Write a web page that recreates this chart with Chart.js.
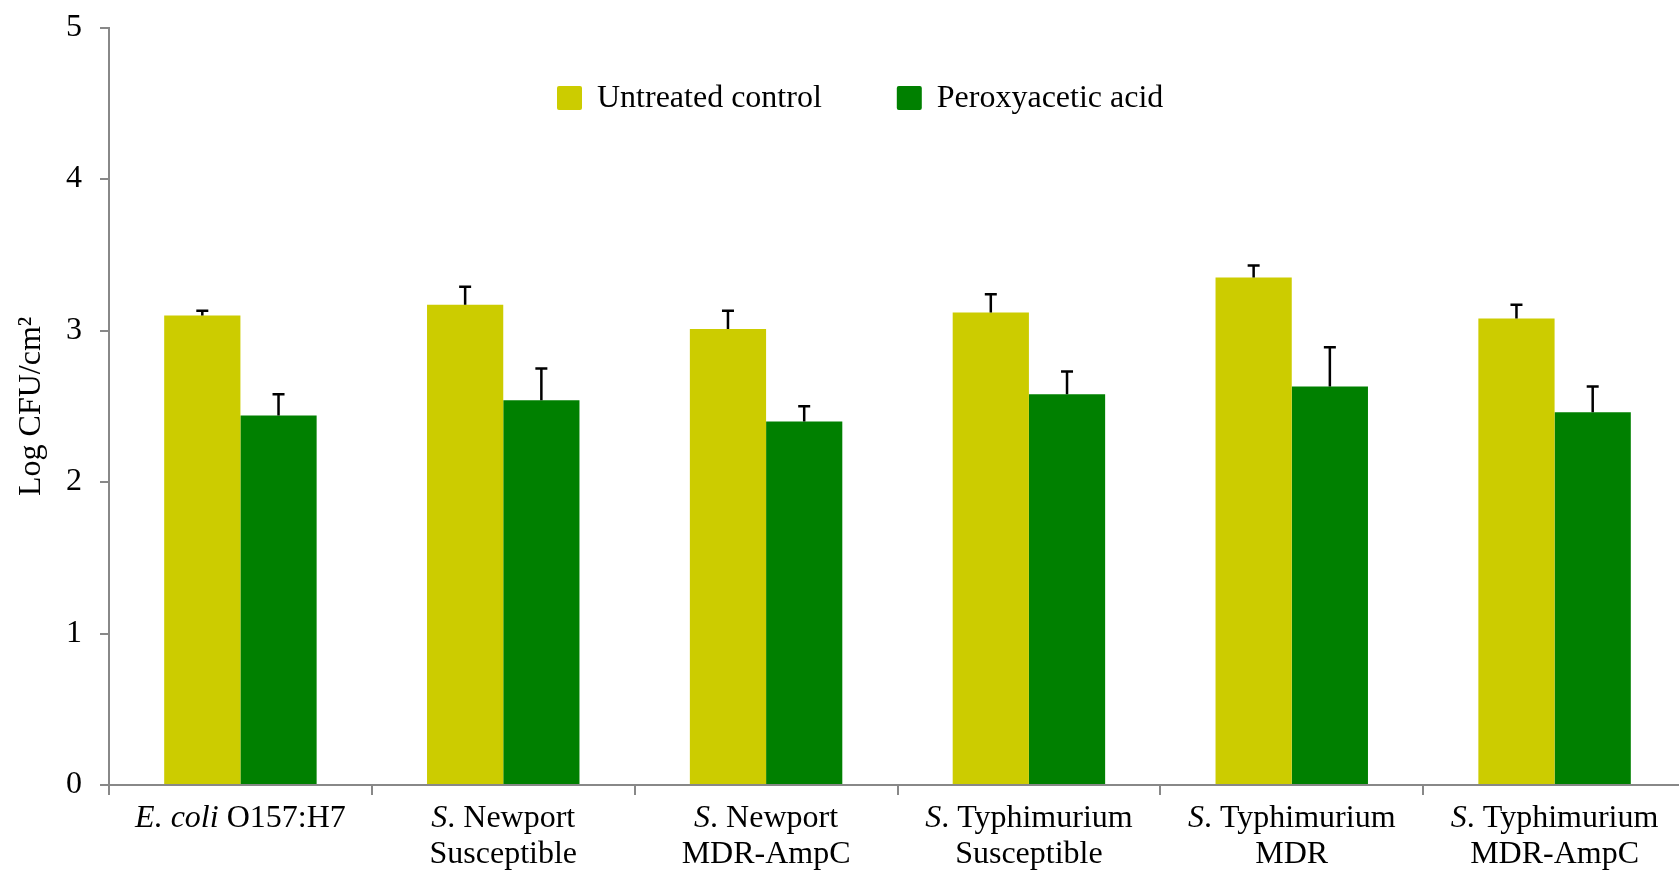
<!DOCTYPE html>
<html>
<head>
<meta charset="utf-8">
<script src="https://cdn.jsdelivr.net/npm/chart.js@4.4.1/dist/chart.umd.min.js"></script>
<style>
  html, body { margin: 0; padding: 0; background: #fff; overflow: hidden; }
  #wrap { position: relative; width: 1686px; height: 872px; }
</style>
</head>
<body>
<div id="wrap"><canvas id="myChart"></canvas></div>
<script>
const ctx = document.getElementById("myChart");

// categorias (eje x), cada una en una o dos lineas
const cepas = [
  ["E. coli O157:H7"],
  ["S. Newport", "Susceptible"],
  ["S. Newport", "MDR-AmpC"],
  ["S. Typhimurium", "Susceptible"],
  ["S. Typhimurium", "MDR"],
  ["S. Typhimurium", "MDR-AmpC"],
];
// parte en cursiva al inicio de la primera linea
const cursivas = ["E. coli", "S", "S", "S", "S", "S"];

const control = [3.10, 3.17, 3.01, 3.12, 3.35, 3.08];
const errControl = [0.03, 0.12, 0.12, 0.12, 0.08, 0.09];
const peracetico = [2.44, 2.54, 2.40, 2.58, 2.63, 2.46];
const errPeracetico = [0.14, 0.21, 0.10, 0.15, 0.26, 0.17];

const yTicks = [0, 1, 2, 3, 4, 5];

const fuente = "'Liberation Serif', 'Times New Roman', serif";
const tam = 32;

// barras de error (solo hacia arriba)
const barrasError = {
  id: "barrasError",
  afterDatasetsDraw(chart) {
    const c = chart.ctx;
    const y = chart.scales.y;
    chart.data.datasets.forEach((ds, i) => {
      const meta = chart.getDatasetMeta(i);
      meta.data.forEach((bar, j) => {
        const top = y.getPixelForValue(ds.data[j] + ds.errores[j]);
        c.save();
        c.strokeStyle = "#000";
        c.lineWidth = 2.5;
        c.beginPath();
        c.moveTo(bar.x, bar.y);
        c.lineTo(bar.x, top);
        c.moveTo(bar.x - 6, top);
        c.lineTo(bar.x + 6, top);
        c.stroke();
        c.restore();
      });
    });
  },
};

// etiquetas del eje x con cursiva
const etiquetasX = {
  id: "etiquetasX",
  afterDraw(chart) {
    const c = chart.ctx;
    const x = chart.scales.x;
    const base = chart.chartArea.bottom;
    c.save();
    c.fillStyle = "#000";
    c.textBaseline = "alphabetic";
    cepas.forEach((lineas, i) => {
      const cx = x.getPixelForValue(i);
      lineas.forEach((txt, k) => {
        const yy = base + 42 + k * 36;
        if (k === 0 && txt.startsWith(cursivas[i])) {
          const ita = cursivas[i];
          const resto = txt.slice(ita.length);
          c.font = "italic " + tam + "px " + fuente;
          const w1 = c.measureText(ita).width;
          c.font = tam + "px " + fuente;
          const w2 = c.measureText(resto).width;
          const x0 = cx - (w1 + w2) / 2;
          c.textAlign = "left";
          c.font = "italic " + tam + "px " + fuente;
          c.fillText(ita, x0, yy);
          c.font = tam + "px " + fuente;
          c.fillText(resto, x0 + w1, yy);
        } else {
          c.textAlign = "center";
          c.font = tam + "px " + fuente;
          c.fillText(txt, cx, yy);
        }
      });
    });
    c.restore();
  },
};

// leyenda dentro del grafico
const leyenda = {
  id: "leyenda",
  afterDraw(chart) {
    const c = chart.ctx;
    let xx = 557;
    const yc = 98;
    c.save();
    c.font = tam + "px " + fuente;
    c.textBaseline = "middle";
    c.textAlign = "left";
    chart.data.datasets.forEach((ds) => {
      c.fillStyle = ds.backgroundColor;
      c.beginPath();
      c.roundRect(xx, yc - 12, 25, 24, 2);
      c.fill();
      c.fillStyle = "#000";
      c.fillText(ds.label, xx + 40, yc + 1);
      xx += 40 + c.measureText(ds.label).width + 75;
    });
    c.restore();
  },
};

new Chart(ctx, {
  type: "bar",
  data: {
    labels: cepas,
    datasets: [
      {
        label: "Untreated control",
        data: control,
        errores: errControl,
        backgroundColor: "#CCCC00",
        borderWidth: 0,
      },
      {
        label: "Peroxyacetic acid",
        data: peracetico,
        errores: errPeracetico,
        backgroundColor: "#008000",
        borderWidth: 0,
      },
    ],
  },
  options: {
    responsive: true,
    maintainAspectRatio: false,
    animation: false,
    layout: { padding: { top: 21, right: 0, left: 0, bottom: 0 } },
    datasets: { bar: { categoryPercentage: 0.58, barPercentage: 1 } },
    plugins: { legend: { display: false }, tooltip: { enabled: false } },
    scales: {
      x: {
        ticks: { display: false },
        grid: {
          display: true,
          offset: true,
          drawOnChartArea: false,
          drawTicks: true,
          tickLength: 10,
          color: "#888",
          lineWidth: 2,
        },
        border: { display: true, color: "#888", width: 2 },
        afterFit: (s) => { s.height = 87; },
      },
      y: {
        min: 0,
        max: 5,
        afterBuildTicks: (s) => { s.ticks = yTicks.map((v) => ({ value: v })); },
        ticks: {
          font: { family: fuente, size: tam, lineHeight: 0.6 },
          color: "#000",
          padding: 18,
        },
        grid: {
          display: true,
          drawOnChartArea: false,
          drawTicks: true,
          tickLength: 9,
          color: "#888",
          lineWidth: 2,
        },
        border: { display: true, color: "#888", width: 2 },
        title: {
          display: true,
          text: "Log CFU/cm²",
          font: { family: fuente, size: tam },
          color: "#000",
          padding: { top: 12, bottom: 0 },
        },
        afterFit: (s) => { s.width = 109; },
      },
    },
  },
  plugins: [barrasError, etiquetasX, leyenda],
});
</script>
</body>
</html>
